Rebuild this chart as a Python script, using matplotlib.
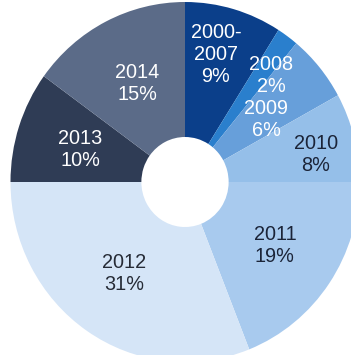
import numpy as np
import matplotlib
matplotlib.use("Agg")
import matplotlib.pyplot as plt

labels = ["2000-\n2007", "2008", "2009", "2010", "2011", "2012", "2013", "2014"]
shares = [9, 2, 6, 8, 19, 31, 10, 15]

colors = ["#0b3f8a", "#2a7fcd", "#679fda", "#95bfe9", "#a8caee",
          "#d5e5f7", "#2f3c55", "#5b6b88"]
text_colors = ["white", "white", "white", "#1b2438", "#1b2438",
               "#262b36", "white", "white"]
# label placement per wedge: radius and angle tweak (degrees)
label_r = [0.728, 0.772, 0.581, 0.767, 0.623, 0.615, 0.629, 0.61]
label_da = [2.1, -3.7, -2.6, -2.7, 0, -0.5, 1.1, -0.2]

fig = plt.figure(figsize=(3.51, 3.55), dpi=100)
ax = fig.add_axes([0, 0, 1, 1])

wedges, _ = ax.pie(shares, colors=colors, startangle=90, counterclock=False,
                   radius=1.0, wedgeprops=dict(width=0.75, linewidth=0))

for w, lab, s, tc, r, da in zip(wedges, labels, shares, text_colors,
                                 label_r, label_da):
    mid = np.deg2rad((w.theta1 + w.theta2) / 2 + da)
    ax.text(r * np.cos(mid), r * np.sin(mid), f"{lab}\n{s}%",
            ha="center", va="center", color=tc, fontsize=14.3,
            family="Liberation Sans", linespacing=1.2)

# source image is slightly stretched vertically and cropped on the right/bottom
ax.set_aspect("auto")
ax.set_xlim(-185 / 174.5, 166 / 174.5)
ax.set_ylim(-173 / 180, 182 / 180)
ax.axis("off")

fig.savefig("out.png", dpi=100)
plt.close(fig)
